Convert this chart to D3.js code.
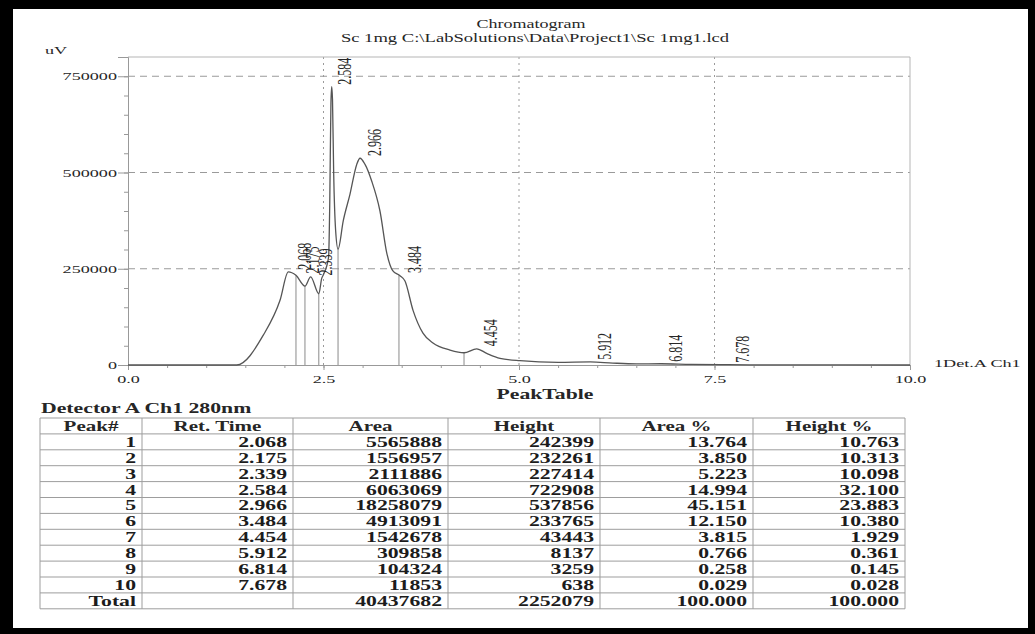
<!DOCTYPE html>
<html>
<head>
<meta charset="utf-8">
<script src="https://cdn.jsdelivr.net/npm/d3@7"></script>
<style>
    html, body { margin: 0; padding: 0; background: #000; }
    svg { display: block; }
    text { font-family: "Liberation Serif", "Times New Roman", serif; fill: #262626; }
</style>
</head>
<body>
<div id="chart"></div>
<script>
// detector trace (min, uV)
const traceTime = [0, 1.39, 1.73, 1.944, 2.05, 2.148, 2.263, 2.336, 2.44, 2.477, 2.50, 2.565, 2.58, 2.595,
    2.605, 2.615, 2.63, 2.655, 2.686, 2.753, 2.839, 2.925, 2.967, 3.031, 3.116, 3.222, 3.31, 3.385, 3.478,
    3.542, 3.645, 3.772, 3.90, 4.118, 4.297, 4.459, 4.587, 4.757, 5.013, 5.5, 5.912, 6.2, 6.5, 6.814, 7.2,
    7.678, 8.3, 10];
const traceSignal = [0, 0, 77500, 168000, 242000, 233000, 205000, 229000, 185000, 225000, 235000, 280000, 420000, 680000,
    722908, 690000, 500000, 350000, 301000, 375000, 444000, 521000, 537000, 521000, 478000, 400000, 290000, 245000, 232000,
    218000, 142000, 82700, 56900, 38800, 31800, 42000, 30200, 17300, 11100, 7000, 8100, 5000, 3000, 3259, 1500,
    800, 300, 0];
const dropTimes = [2.148, 2.263, 2.44, 2.686, 3.465, 4.297];

// peak table
const peakNo = [1, 2, 3, 4, 5, 6, 7, 8, 9, 10];
const retTime = [2.068, 2.175, 2.339, 2.584, 2.966, 3.484, 4.454, 5.912, 6.814, 7.678];
const area = [5565888, 1556957, 2111886, 6063069, 18258079, 4913091, 1542678, 309858, 104324, 11853];
const height = [242399, 232261, 227414, 722908, 537856, 233765, 43443, 8137, 3259, 638];
const areaPct = ["13.764", "3.850", "5.223", "14.994", "45.151", "12.150", "3.815", "0.766", "0.258", "0.029"];
const heightPct = ["10.763", "10.313", "10.098", "32.100", "23.883", "10.380", "1.929", "0.361", "0.145", "0.028"];
const totals = ["Total", "", "40437682", "2252079", "100.000", "100.000"];
const headers = ["Peak#", "Ret. Time", "Area", "Height", "Area %", "Height %"];

const xTicks = [0, 2.5, 5, 7.5, 10];
const yTicks = [0, 250000, 500000, 750000];

const W = 1035, H = 634;
const svg = d3.select("#chart").append("svg")
    .attr("width", W)
    .attr("height", H);

svg.append("rect").attr("width", W).attr("height", H).attr("fill", "#000");
svg.append("rect").attr("x", 13).attr("y", 9).attr("width", 1015).attr("height", 619).attr("fill", "#fff");

// the scan is stretched sideways, so text gets a horizontal scale
function label(g, px, py, str, size, opts) {
    opts = opts || {};
    const k = opts.k || 1.55;
    return g.append("text")
        .attr("transform", `translate(${px},${py}) scale(${k},1)`)
        .attr("text-anchor", opts.anchor || "start")
        .style("font-size", size + "px")
        .style("font-weight", opts.bold ? "bold" : null)
        .text(str);
}

const plot = { left: 128, right: 910, top: 57, bottom: 365 };
const x = d3.scaleLinear().domain([0, 10]).range([plot.left, plot.right]);
const y = d3.scaleLinear().domain([0, 800000]).range([plot.bottom, plot.top]);

// titles
label(svg, 531, 28, "Chromatogram", 12, { anchor: "middle", k: 1.5 });
label(svg, 535, 42, "Sc 1mg C:\\LabSolutions\\Data\\Project1\\Sc 1mg1.lcd", 12, { anchor: "middle", k: 1.55 });
label(svg, 45, 54, "uV", 11, { k: 1.65 });

// grid
svg.append("g").selectAll("line")
    .data(yTicks.filter(d => d > 0))
    .enter().append("line")
    .attr("x1", plot.left).attr("x2", plot.right)
    .attr("y1", d => y(d)).attr("y2", d => y(d))
    .attr("stroke", "#9a9a9a").attr("stroke-dasharray", "7,5");

svg.append("g").selectAll("line")
    .data(xTicks.filter(d => d > 0 && d < 10))
    .enter().append("line")
    .attr("x1", d => x(d)).attr("x2", d => x(d))
    .attr("y1", plot.top).attr("y2", plot.bottom)
    .attr("stroke", "#9a9a9a").attr("stroke-dasharray", "2,4");

// frame top / right
svg.append("path")
    .attr("d", `M${plot.left},${plot.top}H${plot.right}V${plot.bottom}`)
    .attr("fill", "none").attr("stroke", "#b5b5b5");

// axes
const xMinor = svg.append("g")
    .attr("transform", `translate(0,${plot.bottom})`)
    .call(d3.axisBottom(x).tickValues(d3.range(0, 10.001, 0.5)).tickSize(3).tickFormat(""));
xMinor.select(".domain").remove();
xMinor.selectAll("line").attr("stroke", "#999");

const xAxis = svg.append("g")
    .attr("transform", `translate(0,${plot.bottom})`)
    .call(d3.axisBottom(x).tickValues(xTicks).tickSize(5).tickFormat(d3.format(".1f")));
xAxis.select(".domain").attr("stroke", "#999");
xAxis.selectAll("line").attr("stroke", "#999");
xAxis.selectAll("text")
    .attr("y", 10)
    .attr("transform", "scale(1.65,1)")
    .style("font-size", "11px")
    .style("font-family", null)
    .attr("fill", "#262626");

const yMinor = svg.append("g")
    .attr("transform", `translate(${plot.left},0)`)
    .call(d3.axisLeft(y).tickValues(d3.range(0, 800001, 50000)).tickSize(4).tickFormat(""));
yMinor.select(".domain").remove();
yMinor.selectAll("line").attr("stroke", "#999");

const yAxis = svg.append("g")
    .attr("transform", `translate(${plot.left},0)`)
    .call(d3.axisLeft(y).tickValues(yTicks).tickSize(10).tickFormat(d => d));
yAxis.select(".domain").attr("stroke", "#999");
yAxis.selectAll("line").attr("stroke", "#999");
yAxis.selectAll("text")
    .attr("x", -11 / 1.65)
    .attr("transform", "scale(1.65,1)")
    .style("font-size", "11px")
    .style("font-family", null)
    .attr("fill", "#262626");

// trace
const trace = d3.zip(traceTime, traceSignal);
const sig = d3.scaleLinear().domain(traceTime).range(traceSignal);

svg.append("g").selectAll("line")
    .data(dropTimes)
    .enter().append("line")
    .attr("x1", d => x(d)).attr("x2", d => x(d))
    .attr("y1", y(0)).attr("y2", d => y(sig(d)))
    .attr("stroke", "#8a8a8a");

svg.append("path")
    .datum(trace)
    .attr("fill", "none")
    .attr("stroke", "#555")
    .attr("stroke-width", 1.3)
    .attr("d", d3.line().x(d => x(d[0])).y(d => y(d[1])).curve(d3.curveMonotoneX));

// peak labels
svg.append("g").selectAll("text")
    .data(d3.zip(retTime, height))
    .enter().append("text")
    .attr("transform", d => `translate(${x(d[0]) + 21},${y(d[1]) - 2}) rotate(-90) scale(1,1.55)`)
    .style("font-size", "12px")
    .text(d => d[0].toFixed(3));

label(svg, 934, 367, "1Det.A Ch1", 11, { k: 1.65 });
label(svg, 545, 399, "PeakTable", 14, { anchor: "middle", bold: true, k: 1.55 });

// peak table
label(svg, 41, 413, "Detector A Ch1 280nm", 15, { bold: true, k: 1.45 });

const colX = [40, 142, 293, 448, 600, 753, 905];
const rowTop = 418, rowH = 15.9;
const rows = peakNo.map((p, i) => [String(p), retTime[i].toFixed(3), String(area[i]), String(height[i]), areaPct[i], heightPct[i]]);
rows.push(totals);
const nRows = rows.length + 1;
const table = svg.append("g");

table.selectAll("line.h")
    .data(d3.range(nRows + 1))
    .enter().append("line")
    .attr("x1", colX[0]).attr("x2", colX[colX.length - 1])
    .attr("y1", d => rowTop + d * rowH).attr("y2", d => rowTop + d * rowH)
    .attr("stroke", "#9d9d9d");

table.selectAll("line.v")
    .data(colX)
    .enter().append("line")
    .attr("x1", d => d).attr("x2", d => d)
    .attr("y1", rowTop).attr("y2", rowTop + nRows * rowH)
    .attr("stroke", "#9d9d9d");

headers.forEach((h, c) => {
    label(table, (colX[c] + colX[c + 1]) / 2, rowTop + rowH - 3, h, 14, { anchor: "middle", bold: true, k: 1.5 });
});

rows.forEach((r, i) => {
    r.forEach((v, c) => {
        if (v === "") return;
        label(table, colX[c + 1] - 6, rowTop + (i + 2) * rowH - 3, v, 14, { anchor: "end", bold: true, k: 1.55 })
            .style("fill", "#1c1c1c");
    });
});
</script>
</body>
</html>
